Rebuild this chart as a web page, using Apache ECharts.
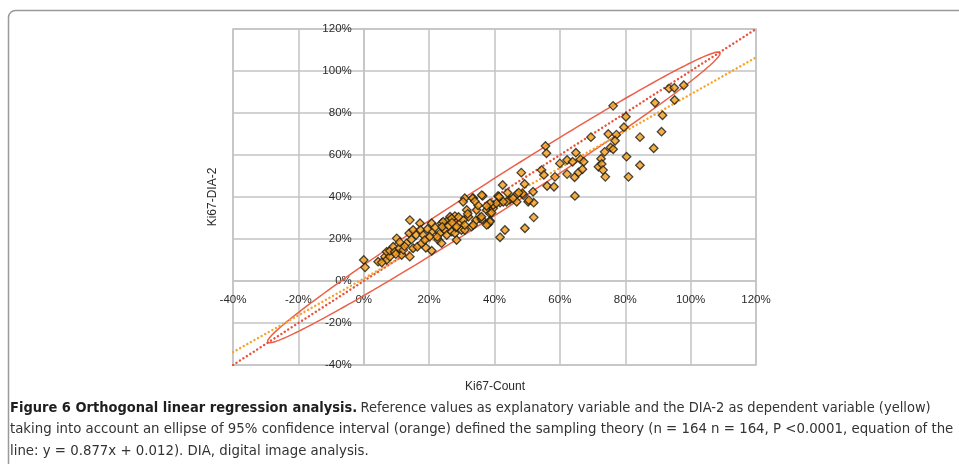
<!DOCTYPE html>
<html>
<head>
<meta charset="utf-8">
<script src="https://cdn.jsdelivr.net/npm/echarts@6/dist/echarts.min.js"></script>
<style>
  html, body { margin: 0; padding: 0; background: #fff; }
  #chart { width: 959px; height: 464px; }
</style>
</head>
<body>
<div id="chart"></div>
<script>
// Axis range (percent) shared by both axes
const axisMin = -40;
const axisMax = 120;
const axisStep = 20;

// Ki67 by manual count (x) and by DIA-2 (y), in percent
const ki67Count = [
  0.0, 0.4, 4.4, 6.5, 7.0, 7.0, 8.0, 8.0, 9.0, 9.5,
  10.1, 10.9, 11.6, 12.1, 13.1, 14.1, 13.9, 15.1, 14.6, 16.0,
  14.1, 15.1, 16.4, 17.2, 17.4, 18.2, 17.7, 18.7, 20.8, 20.8,
  20.2, 20.8, 22.8, 23.3, 23.8, 24.8, 25.8, 26.4, 25.4, 26.9,
  27.9, 28.4, 28.2, 29.4, 29.9, 30.9, 30.4, 33.5, 36.4, 31.5,
  32.0, 34.5, 35.5, 37.6, 38.6, 39.6, 33.0, 34.3, 30.9, 27.9,
  41.7, 43.2, 42.5, 44.7, 46.8, 48.8, 50.3, 49.3, 36.1, 41.1,
  41.7, 39.6, 39.1, 38.6, 38.1, 36.1, 52.0, 52.0, 51.8, 48.6,
  46.9, 45.7, 43.7, 33.3, 41.4, 47.4, 40.6, 38.6, 37.6, 36.0,
  38.6, 37.6, 33.5, 26.9, 24.3, 30.4, 30.9, 28.4, 76.3, 55.6,
  55.9, 69.5, 74.8, 77.3, 76.9, 80.2, 79.6, 75.5, 76.3, 73.7,
  72.6, 71.8, 72.8, 73.2, 73.9, 80.4, 84.5, 81.0, 84.5, 88.7,
  91.1, 91.4, 89.1, 95.1, 93.4, 95.0, 97.9, 60.0, 62.2, 63.9,
  64.9, 66.3, 67.3, 62.2, 64.5, 65.7, 66.9, 58.5, 48.2, 54.4,
  55.1, 56.1, 58.2, 49.2, 64.6, 12.5, 19.5, 21.8, 22.5, 24.0,
  26.0, 27.0, 31.8, 29.0, 19.0, 11.0, 23.8, 35.0, 42.7, 44.0,
  50.5, 34.0, 5.5, 9.8
];
const ki67Dia2 = [
  10.0, 6.5, 9.2, 11.6, 13.9, 10.0, 11.6, 14.4, 16.3, 13.9,
  20.3, 15.6, 12.4, 14.8, 17.9, 29.0, 22.7, 24.3, 19.8, 21.9,
  11.6, 15.6, 16.3, 27.5, 24.3, 21.9, 17.9, 19.5, 27.5, 23.5,
  21.1, 14.4, 19.5, 22.7, 27.5, 24.3, 29.0, 30.6, 21.9, 23.5,
  22.7, 19.5, 25.6, 27.5, 24.3, 39.4, 37.7, 39.4, 40.5, 33.8,
  30.6, 33.8, 29.8, 33.8, 32.2, 34.6, 25.9, 28.8, 24.3, 30.9,
  20.8, 24.3, 45.7, 38.6, 37.7, 40.9, 37.7, 25.1, 40.9, 40.5,
  37.3, 36.2, 32.5, 28.7, 27.1, 29.4, 30.3, 37.3, 42.5, 41.7,
  41.4, 39.4, 37.7, 39.4, 40.1, 42.1, 37.0, 37.0, 35.7, 30.6,
  28.2, 26.7, 26.7, 29.8, 28.2, 29.0, 26.7, 25.9, 83.4, 64.3,
  60.8, 68.5, 70.0, 69.7, 66.8, 78.2, 73.2, 63.6, 62.7, 61.5,
  58.2, 54.4, 55.7, 52.8, 49.6, 59.2, 55.1, 49.6, 68.5, 63.2,
  71.1, 78.9, 84.9, 86.2, 91.7, 92.0, 93.2, 56.0, 57.6, 56.8,
  61.1, 57.9, 56.8, 50.9, 49.4, 51.7, 53.2, 49.6, 51.6, 52.8,
  50.5, 45.2, 44.9, 46.2, 40.5, 16.5, 24.8, 25.5, 21.0, 25.8,
  26.3, 27.8, 32.0, 30.5, 15.8, 18.5, 18.0, 36.0, 37.7, 42.0,
  38.5, 38.0, 8.8, 12.8
];

// Orthogonal regression y = 0.877x + 0.012 (intercept expressed in percent)
const regSlope = 0.877;
const regIntercept = 1.2;

// 95% confidence ellipse: centre, semi-axes (percent) and orientation
const ellipseCentre = [39.8, 39.8];
const ellipseSemiMajor = 97.8;
const ellipseSemiMinor = 6.3;
const ellipseAngleDeg = 45;

const points = ki67Count.map((x, i) => [x, ki67Dia2[i]]);
const identityLine = [[axisMin, axisMin], [axisMax, axisMax]];
const regressionLine = [axisMin, axisMax].map(x => [x, regSlope * x + regIntercept]);

const ellipseOutline = [];
const steps = 240;
const ang = ellipseAngleDeg * Math.PI / 180;
for (let k = 0; k <= steps; k++) {
  const t = 2 * Math.PI * k / steps;
  const u = ellipseSemiMajor * Math.cos(t);
  const v = ellipseSemiMinor * Math.sin(t);
  ellipseOutline.push([
    ellipseCentre[0] + u * Math.cos(ang) - v * Math.sin(ang),
    ellipseCentre[1] + u * Math.sin(ang) + v * Math.cos(ang)
  ]);
}

// Plot rectangle in pixels
const gridLeft = 233, gridTop = 29, gridWidth = 523, gridHeight = 336;
// Axes cross at the origin: shift them inward from the grid edges
const yAxisShift = -gridWidth * (0 - axisMin) / (axisMax - axisMin);
const xAxisShift = -gridHeight * (0 - axisMin) / (axisMax - axisMin);

const gridColor = '#c3c3c3';
const labelFont = 'Arial, "Liberation Sans", sans-serif';
const captionFont = '"Liberation Sans Narrow", "DejaVu Sans Condensed", "Open Sans", sans-serif';

function valueAxis(shift, margin) {
  return {
    type: 'value',
    min: axisMin,
    max: axisMax,
    interval: axisStep,
    offset: shift,
    axisLine: { show: true, onZero: false, lineStyle: { color: gridColor, width: 1.5 } },
    axisTick: { show: false },
    axisLabel: {
      formatter: '{value}%',
      color: '#2b2b2b',
      fontSize: 11.5,
      fontFamily: labelFont,
      margin: margin
    },
    splitLine: { show: true, lineStyle: { color: gridColor, width: 1.5 } }
  };
}

const chart = echarts.init(document.getElementById('chart'), null, { renderer: 'canvas' });

chart.setOption({
  animation: false,
  backgroundColor: '#ffffff',
  grid: {
    left: gridLeft, top: gridTop, width: gridWidth, height: gridHeight,
    show: true, borderColor: gridColor, borderWidth: 1.5, backgroundColor: 'transparent'
  },
  xAxis: valueAxis(xAxisShift, 13),
  yAxis: valueAxis(yAxisShift, 12),
  series: [
    {
      name: 'ellipse',
      type: 'line',
      data: ellipseOutline,
      symbol: 'none',
      smooth: false,
      lineStyle: { color: '#ec6048', width: 1.5 },
      z: 2
    },
    {
      name: 'identity',
      type: 'line',
      data: identityLine,
      symbol: 'none',
      lineStyle: { color: '#e9533e', width: 2.4, type: [0.1, 4], cap: 'round' },
      z: 3
    },
    {
      name: 'regression',
      type: 'line',
      data: regressionLine,
      symbol: 'none',
      lineStyle: { color: '#f5a42a', width: 2.4, type: [0.1, 4], cap: 'round' },
      z: 3
    },
    {
      name: 'samples',
      type: 'scatter',
      data: points,
      symbol: 'diamond',
      symbolSize: 8.5,
      itemStyle: { color: '#f29e1c', borderColor: '#1e1a14', borderWidth: 1.3 },
      z: 5
    }
  ],
  graphic: [
    {
      type: 'rect',
      shape: { x: 8.5, y: 10.5, width: 1000, height: 1000, r: 7 },
      style: { fill: 'none', stroke: '#9a9a9a', lineWidth: 1.5 },
      silent: true
    },
    {
      type: 'text',
      x: 213, y: 197,
      rotation: Math.PI / 2,
      style: {
        text: 'Ki67-DIA-2',
        fill: '#2b2b2b',
        font: '12px ' + labelFont,
        align: 'center',
        verticalAlign: 'middle'
      }
    },
    {
      type: 'text',
      x: 495, y: 387,
      style: {
        text: 'Ki67-Count',
        fill: '#2b2b2b',
        font: '12px ' + labelFont,
        align: 'center',
        verticalAlign: 'middle'
      }
    },
    {
      type: 'text',
      x: 10, y: 408,
      style: {
        text: '{b|Figure 6 Orthogonal linear regression analysis.} {r|Reference values as explanatory variable and the DIA-2 as dependent variable (yellow)}',
        verticalAlign: 'middle',
        rich: {
          b: { fontFamily: captionFont, fontSize: 14.5, fontWeight: 'bold', fill: '#1e1e1e' },
          r: { fontFamily: captionFont, fontSize: 14.5, fill: '#333333' }
        }
      }
    },
    {
      type: 'text',
      x: 10, y: 429,
      style: {
        text: 'taking into account an ellipse of 95% confidence interval (orange) defined the sampling theory (n = 164 n = 164, P <0.0001, equation of the',
        fontFamily: captionFont, fontSize: 14.8, fill: '#333333',
        verticalAlign: 'middle'
      }
    },
    {
      type: 'text',
      x: 10, y: 451,
      style: {
        text: 'line: y = 0.877x + 0.012). DIA, digital image analysis.',
        fontFamily: captionFont, fontSize: 14.8, fill: '#333333',
        verticalAlign: 'middle'
      }
    }
  ]
});
</script>
</body>
</html>
